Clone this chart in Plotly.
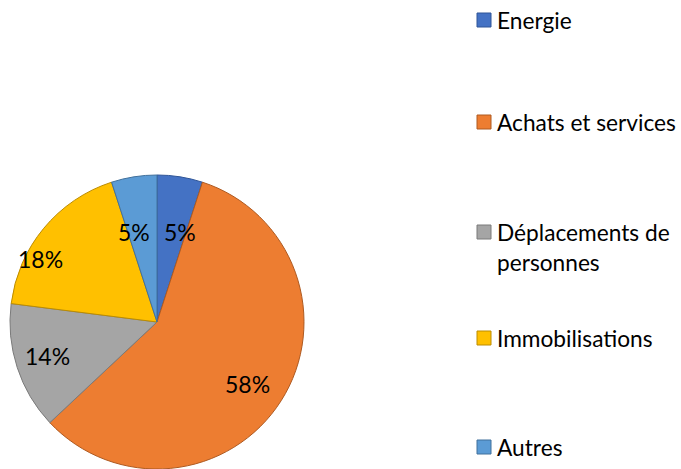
import math
import plotly.graph_objects as go

categories = ["Energie", "Achats et services", "Déplacements de personnes", "Immobilisations", "Autres"]
values = [5, 58, 14, 18, 5]
colors = ["#4472C4", "#ED7D31", "#A5A5A5", "#FFC000", "#5B9BD5"]
borders = ["#2F5597", "#AE5A21", "#7B7B7B", "#BC8C00", "#41719C"]
legend_labels = ["Energie", "Achats et services", "Déplacements de<br>personnes", "Immobilisations", "Autres"]

W, H = 681, 469
FONT = "Lato, Open Sans, sans-serif"

# pie geometry (pixels)
px0, px1 = 10, 304
py0, py1 = 0, 294          # from bottom
cx, cy = (px0 + px1) / 2, (py0 + py1) / 2
R = (px1 - px0) / 2

fig = go.Figure()
fig.add_trace(go.Pie(
    labels=categories, values=values, sort=False, direction="clockwise", rotation=0,
    marker=dict(colors=colors, line=dict(color=borders, width=1)),
    textinfo="none",
    domain=dict(x=[px0 / W, px1 / W], y=[py0 / H, py1 / H]),
    showlegend=False, hoverinfo="label+percent",
))

# data label placement (best-fit style): fraction along slice span, fraction of radius
label_span_frac = [0.80, 0.51, 0.52, 0.33, 0.19]
label_rad_frac = [0.63, 0.75, 0.78, 0.90, 0.63]

annotations = []
total = sum(values)
start = 0.0
for v, sf, rf in zip(values, label_span_frac, label_rad_frac):
    span = 360.0 * v / total
    ang = math.radians(start + sf * span)
    start += span
    x = cx + rf * R * math.sin(ang)
    y = cy + rf * R * math.cos(ang)
    annotations.append(dict(xref="paper", yref="paper", x=x / W, y=y / H,
                            xanchor="center", yanchor="middle", showarrow=False,
                            text=f"{round(100 * v / total)}%",
                            font=dict(family=FONT, size=23, color="black")))

# legend drawn manually
legend_y = [20, 122, 232, 338, 447]
shapes = []
for lab, col, bc, y in zip(legend_labels, colors, borders, legend_y):
    shapes.append(dict(type="rect", xref="paper", yref="paper",
                       x0=477 / W, x1=491 / W, y0=1 - (y + 7) / H, y1=1 - (y - 7) / H,
                       fillcolor=col, line=dict(color=bc, width=1)))
    annotations.append(dict(xref="paper", yref="paper", x=495 / W, y=1 - (y - 15) / H,
                            xanchor="left", yanchor="top", align="left", showarrow=False,
                            text=lab, font=dict(family=FONT, size=22.7, color="black")))

fig.update_layout(width=W, height=H, margin=dict(l=0, r=0, t=0, b=0),
                  paper_bgcolor="white", plot_bgcolor="white",
                  shapes=shapes, annotations=annotations)
fig.write_html("out.html", config={"displayModeBar": False},
               post_script="document.body.style.margin='0px';")
